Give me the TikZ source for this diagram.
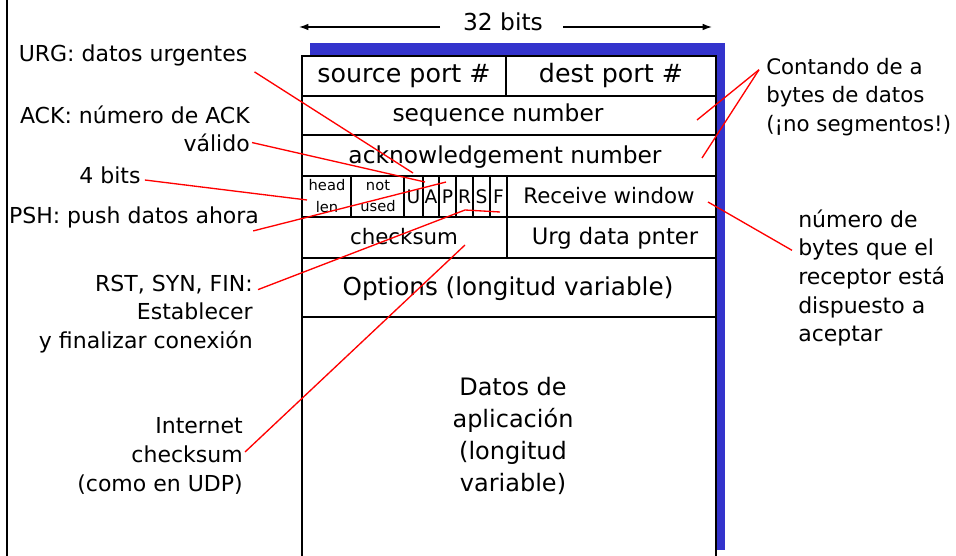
\documentclass[tikz,border=0pt]{standalone}
\usepackage{fontspec}
\setmainfont{DejaVu Sans}
\usetikzlibrary{arrows.meta}
\definecolor{shadowblue}{RGB}{51,51,204}
\definecolor{calloutred}{RGB}{255,0,0}
\begin{document}
\begin{tikzpicture}[x=0.75pt,y=-0.75pt,
  fld/.style={inner sep=0pt, font=\fontsize{16}{19}\selectfont},
  lbl/.style={inner sep=0pt, font=\fontsize{16.5}{21.5}\selectfont},
  flag/.style={inner sep=0pt, font=\fontsize{14}{16}\selectfont},
  tiny/.style={inner sep=0pt, align=center, font=\fontsize{11}{16}\selectfont},
  callout/.style={draw=calloutred, line width=1pt},
  gridline/.style={draw=black, line width=1.2pt},
  dim/.style={line width=1pt, -{Latex[length=7pt,width=5pt]}}]
\useasboundingbox (0,0) rectangle (956,556);
% slide border
\draw[line width=1.6pt] (7,0) -- (7,556);
% width arrow
\node[fld, font=\fontsize{17.5}{20}\selectfont] (bits) at (503,22) {32 bits};
\coordinate (bitsL) at (299,27);
\coordinate (bitsR) at (712,27);
\draw[dim] (440,27) -- (bitsL);
\draw[dim] (563,27) -- (bitsR);
% shadow and segment
\fill[shadowblue] (310,43) rectangle (725,550);
\fill[white] (302,56) rectangle (716,556);
\draw[gridline] (302,556) -- (302,56) -- (716,56) -- (716,556);
\foreach \yy in {96,135,176,217,258,317}
  \draw[gridline] (302,\yy) -- (716,\yy);
\draw[gridline] (506,56) -- (506,96);
\foreach \xx in {351,404,423,439,456,473,490,507}
  \draw[gridline] (\xx,176) -- (\xx,217);
\draw[gridline] (507,217) -- (507,258);
% field texts
\node[fld, font=\fontsize{19}{21}\selectfont] (src) at (404,76) {source port \#};
\node[fld, font=\fontsize{19}{21}\selectfont] (dst) at (611,76) {dest port \#};
\node[fld, font=\fontsize{17.5}{20}\selectfont] (seq) at (498,115) {sequence number};
\node[fld, font=\fontsize{17.5}{20}\selectfont] (ackn) at (505,157) {acknowledgement number};
\node[tiny] (hlen) at (327,196) {head\\len};
\node[tiny] (nused) at (378,196) {not\\used};
\node[flag] (fU) at (413.5,197) {U};
\node[flag] (fA) at (431,197) {A};
\node[flag] (fP) at (447.5,197) {P};
\node[flag] (fR) at (464.5,197) {R};
\node[flag] (fS) at (481.5,197) {S};
\node[flag] (fF) at (498.5,197) {F};
\node[fld, font=\fontsize{16}{18}\selectfont] (rwf) at (609,196) {Receive window};
\node[fld] (cks) at (404,237) {checksum};
\node[fld, font=\fontsize{17}{19}\selectfont] (urgp) at (615,238) {Urg data pnter};
\node[fld, font=\fontsize{18.5}{20}\selectfont] (opt) at (508,289) {Options (longitud variable)};
\node[fld, align=center, font=\fontsize{18}{24}\selectfont] (data) at (513,436) {Datos de\\aplicación\\(longitud\\variable)};
% side labels
\node[lbl] (urg) at (133,55) {URG: datos urgentes};
\node[lbl, align=right, anchor=east] (ack) at (250,129) {ACK: número de ACK\\válido};
\node[lbl] (four) at (110,175) {4 bits};
\node[lbl] (psh) at (134,217) {PSH: push datos ahora};
\node[lbl, align=right, anchor=east] (rst) at (253,314) {RST, SYN, FIN:\\Establecer\\y finalizar conexión};
\node[lbl, align=right, anchor=east] (inet) at (243,456) {Internet\\checksum\\(como en UDP)};
\node[lbl, align=left, anchor=west, font=\fontsize{16}{21.5}\selectfont] (cont) at (766,97) {Contando de a\\bytes de datos\\(¡no segmentos!)};
\node[lbl, align=left, anchor=west] (rwin) at (798,278) {número de\\bytes que el\\receptor está\\dispuesto a\\aceptar};
% callout end points
\coordinate (urgE) at (413,173);
\coordinate (ackE) at (425,182);
\coordinate (fourE) at (307,200);
\coordinate (pshE) at (446,182);
\coordinate (rstM) at (465,210);
\coordinate (rstE) at (500,212);
\coordinate (cksE) at (465,245);
\coordinate (seqE) at (697,120);
\coordinate (ackE2) at (702,158);
\coordinate (rwE) at (708,202);
% callouts
\draw[callout] ([shift={(7,6)}]urg.south east) -- (urgE);
\draw[callout] ([shift={(2,-10)}]ack.south east) -- (ackE);
\draw[callout] ([shift={(4,5)}]four.east) -- (fourE);
\draw[callout] ([shift={(-6,3)}]psh.south east) -- (pshE);
\draw[callout] ([shift={(5,15)}]rst.north east) -- (rstM) -- (rstE);
\draw[callout] ([shift={(2,-4)}]inet.east) -- (cksE);
\draw[callout] ([shift={(-7,12)}]cont.north west) -- (seqE);
\draw[callout] ([shift={(-7,12)}]cont.north west) -- (ackE2);
\draw[callout] ([shift={(-6,41)}]rwin.north west) -- (rwE);
\end{tikzpicture}
\end{document}
